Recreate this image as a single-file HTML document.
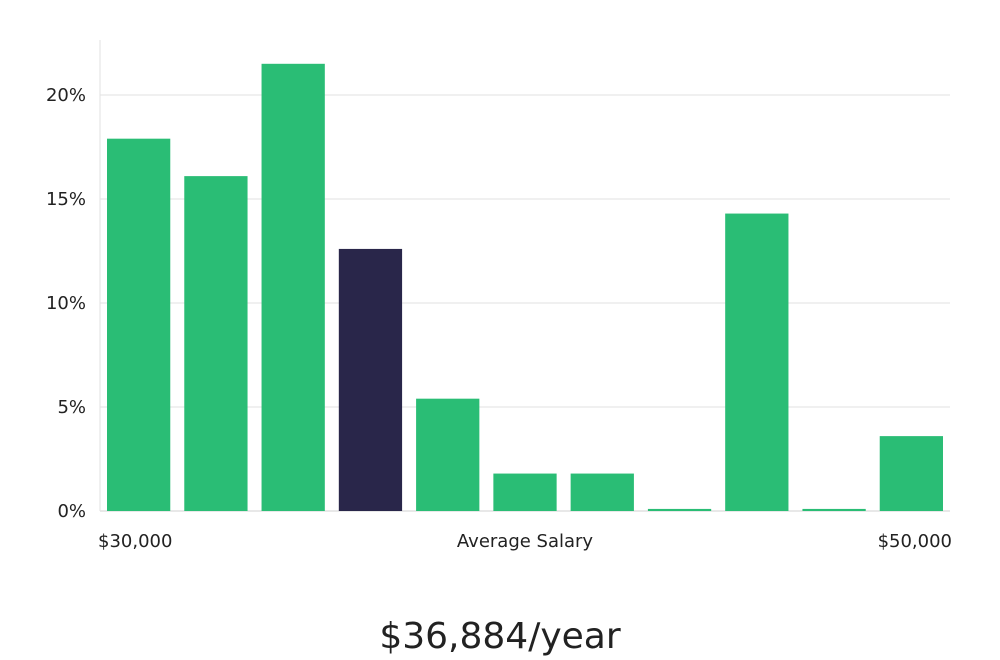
<!DOCTYPE html>
<html><head><meta charset="utf-8"><style>
html,body{margin:0;padding:0;background:#fff;width:1000px;height:660px;overflow:hidden}
text{font-family:"DejaVu Sans","Liberation Sans",sans-serif}
</style></head><body>
<svg id="chart" width="1000" height="660" xmlns="http://www.w3.org/2000/svg">
<g id="grid"></g>
<g id="bars"></g>
<g id="yticks"></g>
<line x1="100" y1="40" x2="100" y2="511" stroke="#e2e2e2" stroke-width="1"/>
<text x="98" y="547" font-size="18" fill="#222">$30,000</text>
<text x="525" y="547" font-size="18" fill="#222" text-anchor="middle">Average Salary</text>
<text x="952" y="547" font-size="18" fill="#222" text-anchor="end">$50,000</text>
<text x="500" y="648" font-size="36" fill="#222" text-anchor="middle" font-family="Liberation Sans, sans-serif">$36,884/year</text>
</svg>
<script>
const categories = ["b1","b2","b3","b4","b5","b6","b7","b8","b9","b10","b11"];
const values = [17.9, 16.1, 21.5, 12.6, 5.4, 1.8, 1.8, 0.1, 14.3, 0.1, 3.6];
const highlight = [false,false,false,true,false,false,false,false,false,false,false];
const yTicks = [0,5,10,15,20];
const yTickLabels = ["0%","5%","10%","15%","20%"];
const ns="http://www.w3.org/2000/svg";
const x0=100,x1=950,y0=511,yPerUnit=20.8;
function y(v){return y0-v*yPerUnit;}
const band=(x1-x0)/categories.length;
function x(i){return x0+i*band;}
const grid=document.getElementById('grid'),yt=document.getElementById('yticks'),bars=document.getElementById('bars');
yTicks.forEach((t,i)=>{
  const l=document.createElementNS(ns,'line');
  
  
  l.setAttribute('x1',x0);l.setAttribute('x2',x1);l.setAttribute('y1',y(t));l.setAttribute('y2',y(t));
  l.setAttribute('stroke',t===0?'#d0d0d0':'#e2e2e2');
  grid.appendChild(l);
  const tx=document.createElementNS(ns,'text');
  
  
  tx.setAttribute('x',86);tx.setAttribute('y',y(t)+6);tx.setAttribute('text-anchor','end');
  tx.setAttribute('font-size','18');tx.setAttribute('fill','#222');
  tx.textContent=yTickLabels[i];
  yt.appendChild(tx);
});
values.forEach((v,i)=>{
  const r=document.createElementNS(ns,'rect');
  
  
  const h=Math.max(v*yPerUnit,1.5);
  r.setAttribute('x',x(i)+7);r.setAttribute('width',band-14);
  r.setAttribute('y',y0-h);r.setAttribute('height',h);
  r.setAttribute('fill',highlight[i]?'#29264a':'#2abd75');
  bars.appendChild(r);
});
</script>
</body></html>
